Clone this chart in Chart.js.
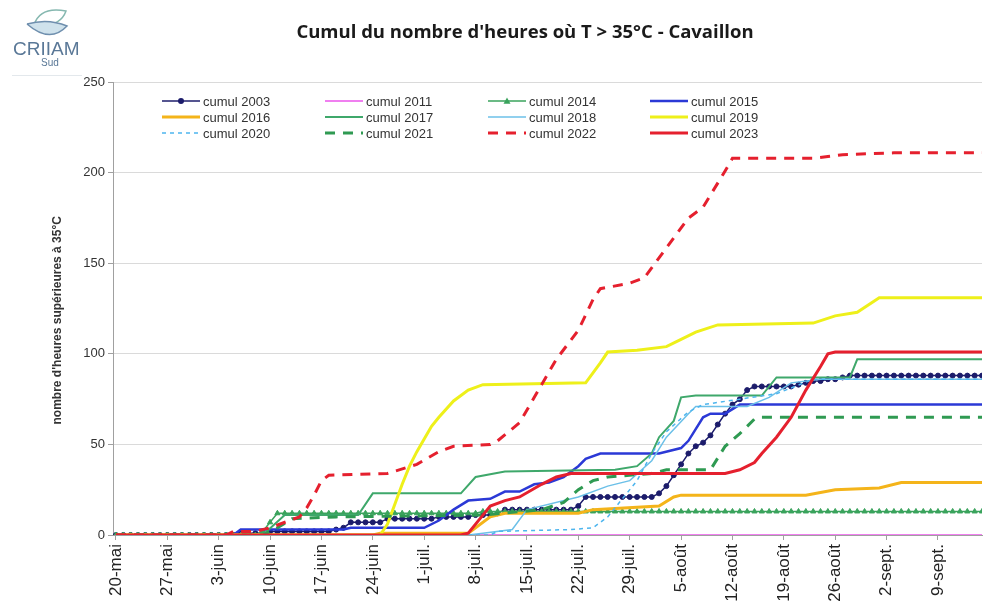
<!DOCTYPE html>
<html>
<head>
<meta charset="utf-8">
<script src="https://cdn.jsdelivr.net/npm/chart.js"></script>
<style>
html,body{margin:0;padding:0;background:#fff;overflow:hidden;}
</style>
</head>
<body>
<canvas id="myChart" width="987" height="606"></canvas>
<script>
// x axis: day 0 = 20 mai, one tick per week
const tickLabels = ['20-mai','27-mai','3-juin','10-juin','17-juin','24-juin','1-juil.','8-juil.','15-juil.',
  '22-juil.','29-juil.','5-août','12-août','19-août','26-août','2-sept.','9-sept.'];
const tickDays = [0,7,14,21,28,35,42,49,56,63,70,77,84,91,98,105,112];
const lastDay = 118;

const years = ['2003','2011','2014','2015','2016','2017','2018','2019','2020','2021','2022','2023'];

// daily values (series drawn with a marker on each day)
const cumul2003 = [0,0,0,0,0,0,0,0,0,0,0,0,0,0,0,0,
  0,1,1,1,1,
  2,2,2,2,2,2,2,2,2,3,
  4,
  7,7,7,7,7,
  9,9,9,9,9,9,9,10,10,10,10,
  10,11,11,11,12,
  14,
  14,14,14,14,14,14,14,14,14,
  16,
  21,
  21,21,21,21,21,21,21,21,21,
  23,27,33,39,45,49,51,55,61,67,72,75,80,
  82,82,82,82,82,82,
  83,84,85,85,86,86,87,
  88,88,88,88,88,88,88,88,88,88,88,88,88,88,88,88,88,88,88];
const cumul2014 = [0,0,0,0,0,0,0,0,0,0,0,0,0,0,0,0,0,0,0,0,
  2,7,
  12,12,12,12,12,12,12,12,12,12,12,12,12,12,12,12,12,12,12,12,12,12,12,12,12,12,12,12,
  13,13,13,13,13,13,13,13,13,13,13,13,13,13,13,13,13,13,13,13,13,13,13,13,13,13,13,13,13,13,
  13,13,13,13,13,13,13,13,13,13,13,13,13,13,13,13,13,13,13,13,13,13,13,13,13,13,13,13,13,13,
  13,13,13,13,13,13,13,13,13];

// [day, value] where the cumulative curve changes slope
const cumul2011 = [[0,0],[118,0]];
const cumul2015 = [[0,0],[16,0],[17,3],[31,3],[32,4],[42,4],[44,8],[46,14],[48,19],[51,20],[53,24],[55,24],
  [57,28],[59,29],[61,32],[63,38],[64,42],[66,45],[74,45],[77,48],[78,52],[80,65],[81,67],[83,67],[85,72],[118,72]];
const cumul2016 = [[0,0],[35,0],[36,1],[48,1],[49,4],[51,10],[53,12],[63,12],[65,14],[74,16],[76,21],[77,22],
  [94,22],[98,25],[104,26],[107,29],[118,29]];
const cumul2017 = [[0,0],[20,0],[23,11],[33,11],[35,23],[47,23],[49,32],[53,35],[68,36],[71,38],[73,45],[74,54],
  [76,63],[77,76],[79,77],[88,77],[90,87],[100,87],[101,97],[118,97]];
const cumul2018 = [[0,0],[48,0],[50,1],[54,3],[56,14],[63,21],[67,27],[70,30],[73,41],[75,54],[78,67],[79,71],
  [86,71],[89,76],[92,84],[96,86],[118,86]];
const cumul2019 = [[0,0],[36,0],[37,6],[38,17],[39,28],[40,38],[41,46],[42,53],[43,60],[44,65],[46,74],[48,80],
  [50,83],[64,84],[66,95],[67,101],[71,102],[75,104],[77,108],[79,112],[82,116],[95,117],[98,121],[101,123],
  [104,131],[118,131]];
const cumul2020 = [[0,0],[51,0],[52,2],[62,3],[65,4],[67,10],[69,20],[71,30],[73,45],[75,57],[78,68],[80,72],
  [85,75],[90,78],[95,86],[118,86]];
const cumul2021 = [[0,0],[20,0],[22,4],[24,9],[30,10],[50,11],[58,14],[61,18],[63,25],[65,30],[67,32],[73,34],
  [75,36],[81,36],[83,49],[85,56],[87,64],[88,65],[118,65]];
const cumul2022 = [[0,0],[15,0],[16,2],[19,2],[21,4],[25,10],[26,15],[27,22],[28,30],[29,33],[37,34],[41,39],
  [44,46],[46,49],[51,50],[52,52],[55,62],[57,76],[60,97],[63,113],[65,130],[66,136],[70,139],[72,142],[76,164],
  [78,175],[80,181],[83,201],[84,208],[95,208],[97,209],[99,210],[106,211],[118,211]];
const cumul2023 = [[0,0],[47,0],[48,1],[49,6],[50,11],[51,16],[53,19],[55,21],[58,28],[60,32],[62,34],[83,34],
  [85,36],[87,40],[88,45],[90,54],[92,65],[94,80],[96,93],[97,100],[98,101],[118,101]];

const daily = arr => arr.map((v, i) => ({x: i, y: v}));
const pairs = arr => arr.map(p => ({x: p[0], y: p[1]}));

const styles = {
  '2003': {data: daily(cumul2003), color: '#1c1c6b', width: 1.5, point: 'circle', r: 2.5},
  '2011': {data: pairs(cumul2011), color: '#f07ff0', width: 2},
  '2014': {data: daily(cumul2014), color: '#3aa35c', width: 1.5, point: 'triangle', r: 3},
  '2015': {data: pairs(cumul2015), color: '#2b39d6', width: 2.5},
  '2016': {data: pairs(cumul2016), color: '#f4b41a', width: 3},
  '2017': {data: pairs(cumul2017), color: '#3fa86b', width: 2},
  '2018': {data: pairs(cumul2018), color: '#6cc0e8', width: 1.5},
  '2019': {data: pairs(cumul2019), color: '#eef01a', width: 3},
  '2020': {data: pairs(cumul2020), color: '#4db5ee', width: 1.5, dash: [4, 4]},
  '2021': {data: pairs(cumul2021), color: '#2f9a52', width: 3, dash: [10, 8]},
  '2022': {data: pairs(cumul2022), color: '#e5202e', width: 3, dash: [10, 8]},
  '2023': {data: pairs(cumul2023), color: '#e5202e', width: 3}
};

const datasets = years.map((y, i) => {
  const s = styles[y];
  return {
    label: 'cumul ' + y,
    data: s.data,
    borderColor: s.color,
    backgroundColor: s.color,
    borderWidth: s.width,
    borderDash: s.dash || [],
    pointStyle: s.point || 'circle',
    pointRadius: s.r || 0,
    pointBackgroundColor: s.color,
    pointBorderColor: s.color,
    pointBorderWidth: 1,
    tension: 0,
    order: -i
  };
});

// legend drawn inside the plot, 4 columns x 3 rows
const legendPlugin = {
  id: 'cumulLegend',
  afterDraw(chart) {
    const ctx = chart.ctx;
    const cols = [162, 325, 488, 650];
    const rows = [101, 117, 133];
    chart.data.datasets.forEach((ds, i) => {
      const x = cols[i % 4], y = rows[Math.floor(i / 4)];
      const len = 38;
      ctx.save();
      ctx.strokeStyle = ds.borderColor;
      ctx.lineWidth = ds.borderWidth;
      ctx.setLineDash(ds.borderDash);
      ctx.beginPath();
      ctx.moveTo(x, y);
      ctx.lineTo(x + len, y);
      ctx.stroke();
      ctx.setLineDash([]);
      if (ds.pointRadius > 0) {
        const cx = x + len / 2, r = ds.pointRadius + 0.5;
        ctx.fillStyle = ds.pointBackgroundColor;
        ctx.beginPath();
        if (ds.pointStyle === 'triangle') {
          ctx.moveTo(cx, y - r);
          ctx.lineTo(cx + r, y + r * 0.8);
          ctx.lineTo(cx - r, y + r * 0.8);
          ctx.closePath();
        } else {
          ctx.arc(cx, y, r, 0, Math.PI * 2);
        }
        ctx.fill();
      }
      ctx.fillStyle = '#333';
      ctx.font = '13px "Liberation Sans", Arial, sans-serif';
      ctx.textBaseline = 'middle';
      ctx.fillText(ds.label, x + len + 3, y + 1);
      ctx.restore();
    });
  }
};

// CRIIAM Sud logo in the top left corner
const logoPlugin = {
  id: 'logo',
  afterDraw(chart) {
    const ctx = chart.ctx;
    ctx.save();
    // upper leaf outline
    ctx.strokeStyle = '#86b8b0';
    ctx.lineWidth = 1.5;
    ctx.beginPath();
    ctx.moveTo(34, 25);
    ctx.quadraticCurveTo(40, 6, 66, 11);
    ctx.quadraticCurveTo(60, 28, 34, 25);
    ctx.stroke();
    // lower leaf
    ctx.fillStyle = '#cfe2ec';
    ctx.strokeStyle = '#6f8fae';
    ctx.beginPath();
    ctx.moveTo(27, 24);
    ctx.quadraticCurveTo(48, 18, 67, 26);
    ctx.quadraticCurveTo(50, 44, 27, 24);
    ctx.fill();
    ctx.stroke();
    ctx.fillStyle = '#5a7897';
    ctx.font = '19px "Liberation Sans", Arial, sans-serif';
    ctx.textBaseline = 'alphabetic';
    ctx.fillText('CRIIAM', 13, 55);
    ctx.font = '10px "Liberation Sans", Arial, sans-serif';
    ctx.textAlign = 'center';
    ctx.fillText('Sud', 50, 66);
    ctx.strokeStyle = '#e3e8ec';
    ctx.lineWidth = 1;
    ctx.beginPath();
    ctx.moveTo(12, 75.5);
    ctx.lineTo(82, 75.5);
    ctx.stroke();
    ctx.restore();
  }
};

// the title sits a little right of the canvas centre
const shiftTitle = {
  id: 'shiftTitle',
  afterLayout(chart) {
    const t = chart.titleBlock;
    if (t) { t.left += 6.5; t.right += 6.5; }
  }
};

const config = {
  type: 'line',
  data: {datasets: datasets},
  options: {
    responsive: false,
    animation: false,
    layout: {padding: {left: 50, right: 0, top: 0, bottom: 0}},
    plugins: {
      legend: {display: false},
      tooltip: {enabled: false},
      title: {
        display: true,
        text: "Cumul du nombre d'heures où T > 35°C - Cavaillon",
        color: '#1a1a1a',
        font: {family: '"Open Sans", sans-serif', size: 18.5, weight: 'bold'},
        padding: {top: 22, bottom: 38}
      }
    },
    scales: {
      x: {
        type: 'linear',
        min: -0.4,
        max: lastDay,
        afterBuildTicks: s => { s.ticks = tickDays.map(v => ({value: v})); },
        afterFit: s => { s.height = 71; },
        grid: {drawOnChartArea: false, drawTicks: true, tickLength: 5, tickColor: '#a0a0a0'},
        border: {color: '#a0a0a0'},
        ticks: {
          autoSkip: false,
          minRotation: 90,
          maxRotation: 90,
          padding: 4,
          color: '#222',
          font: {family: '"Liberation Sans", Arial, sans-serif', size: 17},
          callback: v => tickLabels[tickDays.indexOf(v)]
        }
      },
      y: {
        min: 0,
        max: 250,
        afterFit: s => { s.width = 63; },
        grid: {color: '#dadada', tickLength: 5, tickColor: '#a0a0a0'},
        border: {color: '#a0a0a0'},
        ticks: {
          stepSize: 50,
          padding: 3,
          color: '#333',
          font: {family: '"Liberation Sans", Arial, sans-serif', size: 13}
        },
        title: {
          display: true,
          text: "nombre d'heures supérieures à 35°C       ",
          color: '#333',
          padding: 0,
          font: {family: '"Liberation Sans", Arial, sans-serif', size: 12, weight: 'bold'}
        }
      }
    }
  },
  plugins: [legendPlugin, logoPlugin, shiftTitle]
};

const myChart = new Chart(document.getElementById('myChart'), config);
</script>
</body>
</html>
